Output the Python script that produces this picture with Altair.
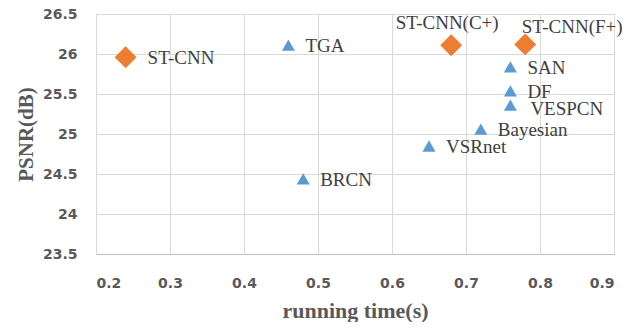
import altair as alt
import pandas as pd

# data
names = ["ST-CNN", "ST-CNN(C+)", "ST-CNN(F+)", "TGA", "SAN", "DF", "VESPCN",
         "Bayesian", "VSRnet", "BRCN"]
times = [0.24, 0.68, 0.78, 0.46, 0.76, 0.76, 0.76, 0.72, 0.65, 0.48]
psnr = [25.96, 26.11, 26.12, 26.11, 25.84, 25.54, 25.36, 25.06, 24.85, 24.44]
group = ["ours", "ours", "ours", "other", "other", "other", "other",
         "other", "other", "other"]
x_ticks = [0.2, 0.3, 0.4, 0.5, 0.6, 0.7, 0.8, 0.9]
y_ticks = [23.5, 24, 24.5, 25, 25.5, 26, 26.5]

df = pd.DataFrame({"name": names, "time": times, "psnr": psnr, "group": group})

x = alt.X("time:Q", title="running time(s)",
          scale=alt.Scale(domain=[0.2, 0.9], nice=False, zero=False),
          axis=alt.Axis(values=x_ticks, format=".1f",
                        labelFont="DejaVu Sans", labelFontWeight="bold",
                        labelFontSize=14, labelColor="#595959", labelPadding=22,
                        titleFont="Liberation Serif", titleFontSize=22,
                        titleFontWeight="bold", titleColor="#595959", titlePadding=10,
                        ticks=False, domainColor="#BFBFBF", gridColor="#D9D9D9"))
y = alt.Y("psnr:Q", title="PSNR(dB)",
          scale=alt.Scale(domain=[23.5, 26.5], nice=False, zero=False),
          axis=alt.Axis(values=y_ticks, format=".1~f",
                        labelFont="DejaVu Sans", labelFontWeight="bold",
                        labelFontSize=14, labelColor="#595959", labelPadding=19,
                        titleFont="Liberation Serif", titleFontSize=21,
                        titleFontWeight="bold", titleColor="#595959", titlePadding=6,
                        ticks=False, domainColor="#D9D9D9", gridColor="#D9D9D9"))

base = alt.Chart(df)

ours = base.transform_filter(alt.datum.group == "ours").mark_point(
    shape="diamond", filled=True, size=480, color="#ED7D31", opacity=1
).encode(x=x, y=y)

others = base.transform_filter(alt.datum.group == "other").mark_point(
    shape="triangle-up", filled=True, size=170, color="#5B9BD5", opacity=1
).encode(x=x, y=y)

tstyle = dict(font="Liberation Serif", fontSize=19, color="#404040")

right_labels = base.transform_filter(
    alt.FieldOneOfPredicate(field="name", oneOf=["TGA", "SAN", "DF",
                                                  "Bayesian", "VSRnet", "BRCN"])
).mark_text(align="left", baseline="middle", dx=17, dy=1, **tstyle).encode(
    x=x, y=y, text="name:N")

stcnn_label = base.transform_filter(alt.datum.name == "ST-CNN").mark_text(
    align="left", baseline="middle", dx=22, dy=1, **tstyle
).encode(x=x, y=y, text="name:N")

vespcn_label = base.transform_filter(alt.datum.name == "VESPCN").mark_text(
    align="left", baseline="middle", dx=20, dy=4, **tstyle).encode(
    x=x, y=y, text="name:N")

c_label = base.transform_filter(alt.datum.name == "ST-CNN(C+)").mark_text(
    align="center", baseline="middle", dx=-4, dy=-22, **tstyle).encode(
    x=x, y=y, text="name:N")

f_label = base.transform_filter(alt.datum.name == "ST-CNN(F+)").mark_text(
    align="center", baseline="middle", dx=47, dy=-17, **tstyle).encode(
    x=x, y=y, text="name:N")

chart = alt.layer(others, ours, right_labels, stcnn_label, vespcn_label,
                  c_label, f_label).properties(
    width=518, height=240,
    autosize=alt.AutoSizeParams(type="none"),
    padding={"left": 88, "top": 6, "right": 19, "bottom": 68},
).configure_view(stroke="#D9D9D9").configure_axis(domainWidth=1)

chart.save("out.html", embed_options={"renderer": "svg", "actions": False})
